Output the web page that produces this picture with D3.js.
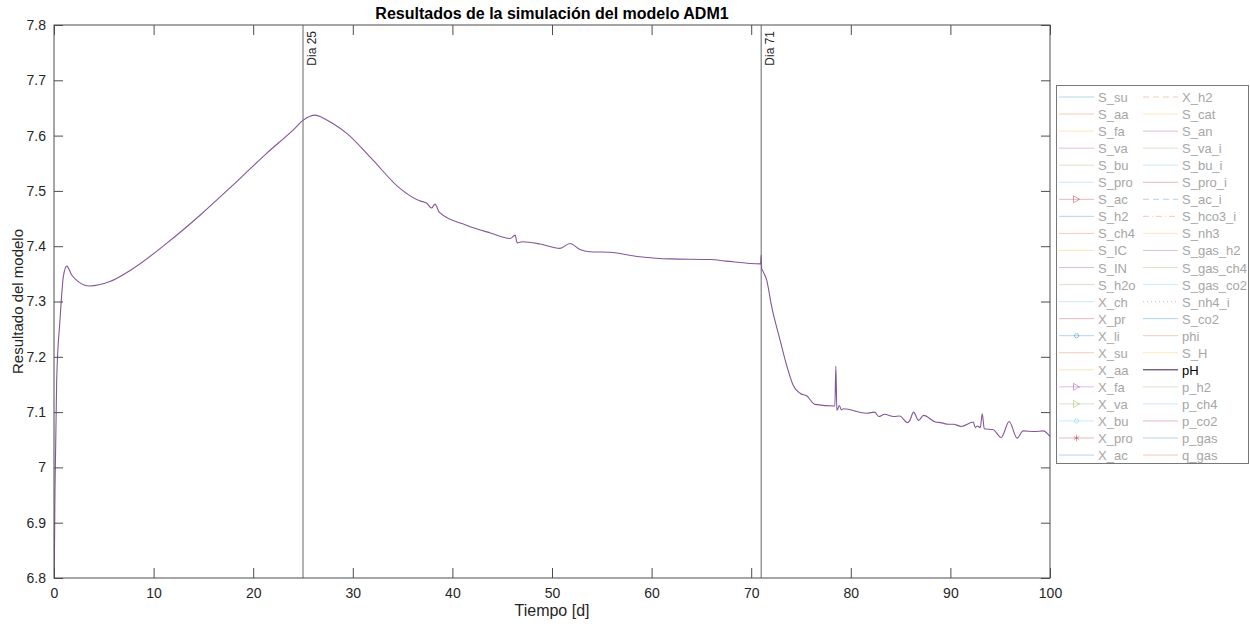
<!DOCTYPE html>
<html>
<head>
<meta charset="utf-8">
<script src="https://cdn.jsdelivr.net/npm/d3@7"></script>
<style>
  body { margin: 0; background: #fff; }
  text { font-family: "Liberation Sans", Arial, sans-serif; }
</style>
</head>
<body>
<script>
// pH curve
const tiempo = [0, 0.1, 0.27, 0.6, 0.94, 1.27, 1.78, 2.44, 3.6, 5.6, 7.8, 11.3, 14.66, 18.0, 21.35, 24.0, 25.03, 25.7, 26.2, 27.0, 28.0, 29.4, 32.0, 34.7, 36.7, 37.4, 37.9, 38.25, 38.7, 41.4, 43.8, 45.8, 46.3, 46.5, 47.0, 48.8, 50.8, 51.8, 52.8, 53.8, 55.8, 58.8, 61.8, 65.9, 67.5, 70.95, 71.0, 71.05, 71.2, 71.55, 72.05, 72.9, 73.6, 74.2, 74.9, 75.6, 76.4, 78.4, 78.5, 78.6, 78.85, 79.05, 79.25, 81.6, 82.4, 82.8, 83.4, 84.3, 84.9, 85.7, 85.9, 86.3, 86.8, 87.3, 88.5, 89.0, 89.8, 90.3, 91.1, 92.3, 92.5, 92.7, 93.0, 93.2, 93.4, 94.3, 95.1, 95.9, 96.7, 97.3, 98.5, 99.3, 100];
const pH = [6.75, 6.96, 7.158, 7.266, 7.345, 7.364, 7.348, 7.336, 7.328, 7.336, 7.358, 7.405, 7.456, 7.511, 7.568, 7.61, 7.628, 7.635, 7.637, 7.632, 7.622, 7.604, 7.556, 7.505, 7.482, 7.478, 7.469, 7.476, 7.461, 7.438, 7.424, 7.414, 7.420, 7.406, 7.408, 7.404, 7.396, 7.405, 7.394, 7.39, 7.389, 7.381, 7.377, 7.376, 7.373, 7.368, 7.384, 7.360, 7.354, 7.339, 7.291, 7.23, 7.182, 7.149, 7.134, 7.129, 7.114, 7.111, 7.183, 7.103, 7.112, 7.104, 7.106, 7.098, 7.1, 7.092, 7.096, 7.092, 7.093, 7.081, 7.084, 7.1, 7.085, 7.094, 7.082, 7.081, 7.078, 7.078, 7.074, 7.082, 7.072, 7.075, 7.072, 7.097, 7.07, 7.068, 7.054, 7.083, 7.053, 7.066, 7.065, 7.066, 7.056];

const xTicks = [0, 10, 20, 30, 40, 50, 60, 70, 80, 90, 100];
const yTicks = [6.8, 6.9, 7, 7.1, 7.2, 7.3, 7.4, 7.5, 7.6, 7.7, 7.8];
const eventDays = [25, 71];
const eventLabels = ["Dia 25", "Dia 71"];

const legendNames = ["S_su", "S_aa", "S_fa", "S_va", "S_bu", "S_pro", "S_ac", "S_h2", "S_ch4", "S_IC", "S_IN",
  "S_h2o", "X_ch", "X_pr", "X_li", "X_su", "X_aa", "X_fa", "X_va", "X_bu", "X_pro", "X_ac",
  "X_h2", "S_cat", "S_an", "S_va_i", "S_bu_i", "S_pro_i", "S_ac_i", "S_hco3_i", "S_nh3", "S_gas_h2", "S_gas_ch4",
  "S_gas_co2", "S_nh4_i", "S_co2", "phi", "S_H", "pH", "p_h2", "p_ch4", "p_co2", "p_gas", "q_gas"];
const legendMarkers = { S_ac: ">", X_li: "o", X_fa: ">", X_va: ">", X_bu: "o", X_pro: "*" };
const legendDash = { X_h2: "6,4", S_ac_i: "6,4", S_hco3_i: "6,3,1,3", S_nh4_i: "1,3" };
const matlabColors = ["#0072BD", "#D95319", "#EDB120", "#7E2F8E", "#77AC30", "#4DBEEE", "#A2142F"];

const W = 1250, H = 626;
const pL = 54, pR = 1050, pT = 25, pB = 578;

const svg = d3.select("body").append("svg").attr("width", W).attr("height", H);

const x = d3.scaleLinear().domain([0, 100]).range([pL, pR]);
const y = d3.scaleLinear().domain([6.8, 7.8]).range([pB, pT]);

svg.append("clipPath").attr("id", "clip")
  .append("rect").attr("x", pL).attr("y", pT).attr("width", pR - pL).attr("height", pB - pT);

// event lines
svg.selectAll(".ev").data(eventDays).enter().append("line")
  .attr("x1", d => x(d)).attr("x2", d => x(d))
  .attr("y1", pT).attr("y2", pB)
  .attr("stroke", "#666").attr("stroke-width", 1);

svg.selectAll(".evlab").data(eventDays).enter().append("text")
  .attr("transform", d => `translate(${x(d) + 13},${pT + 6}) rotate(-90)`)
  .attr("text-anchor", "end")
  .attr("font-size", 12)
  .attr("fill", "#262626")
  .text((d, i) => eventLabels[i]);

// pH line
const pts = tiempo.map((t, i) => [t, pH[i]]);
svg.append("path").datum(pts)
  .attr("clip-path", "url(#clip)")
  .attr("fill", "none")
  .attr("stroke", "#83559a")
  .attr("stroke-width", 1.1)
  .attr("d", d3.line().x(d => x(d[0])).y(d => y(d[1])).curve(d3.curveMonotoneX));

// axes, MATLAB box style with inward ticks
const axColor = "#4d4d4d";
const styleAxis = g => {
  g.select(".domain").remove();
  g.selectAll("line").attr("stroke", axColor);
  g.selectAll("text").attr("font-size", 14).attr("fill", "#262626").attr("font-family", "Liberation Sans, Arial, sans-serif");
};
svg.append("g").attr("transform", `translate(0,${pB})`)
  .call(d3.axisBottom(x).tickValues(xTicks).tickSizeInner(-10).tickSizeOuter(0).tickPadding(10).tickFormat(d3.format("d")))
  .call(styleAxis);
svg.append("g").attr("transform", `translate(0,${pT})`)
  .call(d3.axisTop(x).tickValues(xTicks).tickSizeInner(-10).tickSizeOuter(0).tickFormat(""))
  .call(styleAxis);
svg.append("g").attr("transform", `translate(${pL},0)`)
  .call(d3.axisLeft(y).tickValues(yTicks).tickSizeInner(-9).tickSizeOuter(0).tickPadding(8).tickFormat(d => d3.format("~g")(d)))
  .call(styleAxis);
svg.append("g").attr("transform", `translate(${pR},0)`)
  .call(d3.axisRight(y).tickValues(yTicks).tickSizeInner(-9).tickSizeOuter(0).tickFormat(""))
  .call(styleAxis);
svg.append("rect").attr("x", pL).attr("y", pT).attr("width", pR - pL).attr("height", pB - pT)
  .attr("fill", "none").attr("stroke", axColor).attr("stroke-width", 1);

// labels
svg.append("text").attr("x", (pL + pR) / 2).attr("y", 19)
  .attr("text-anchor", "middle").attr("font-size", 16).attr("font-weight", "bold").attr("fill", "#000")
  .text("Resultados de la simulación del modelo ADM1");
svg.append("text").attr("x", (pL + pR) / 2).attr("y", 616)
  .attr("text-anchor", "middle").attr("font-size", 16).attr("fill", "#262626")
  .text("Tiempo [d]");
svg.append("text").attr("transform", `translate(23,${(pT + pB) / 2}) rotate(-90)`)
  .attr("text-anchor", "middle").attr("font-size", 15).attr("fill", "#262626")
  .text("Resultado del modelo");

// legend
const lg = svg.append("g");
lg.append("rect").attr("x", 1056.5).attr("y", 85.5).attr("width", 192).attr("height", 378)
  .attr("fill", "#fff").attr("stroke", "#777").attr("stroke-width", 1);
const rowH = 17.05, rows = 22;
const items = lg.selectAll(".it").data(legendNames).enter().append("g")
  .attr("transform", (d, i) => {
    const col = Math.floor(i / rows), row = i % rows;
    return `translate(${col === 0 ? 1059 : 1143},${97 + row * rowH})`;
  });
items.append("line")
  .attr("x1", 0).attr("x2", 35).attr("y1", 0).attr("y2", 0)
  .attr("stroke", (d, i) => d === "pH" ? "#3a1f44" : matlabColors[i % 7])
  .attr("stroke-opacity", d => d === "pH" ? 1 : 0.3)
  .attr("stroke-dasharray", d => legendDash[d] || null)
  .attr("stroke-width", 1);
items.filter(d => legendMarkers[d]).append("path")
  .attr("transform", "translate(17.5,0)")
  .attr("d", d => {
    const m = legendMarkers[d];
    if (m === ">") return "M-3,-3.5L3,0L-3,3.5Z";
    if (m === "o") return d3.symbol(d3.symbolCircle, 14)();
    return d3.symbol(d3.symbolAsterisk, 30)();
  })
  .attr("fill", "none")
  .attr("stroke", d => matlabColors[legendNames.indexOf(d) % 7])
  .attr("stroke-opacity", 0.4);
items.append("text")
  .attr("x", 39)
  .attr("y", 5)
  .attr("font-size", 13)
  .attr("fill", d => d === "pH" ? "#000" : "#a6a6a6")
  .text(d => d);
</script>
</body>
</html>
